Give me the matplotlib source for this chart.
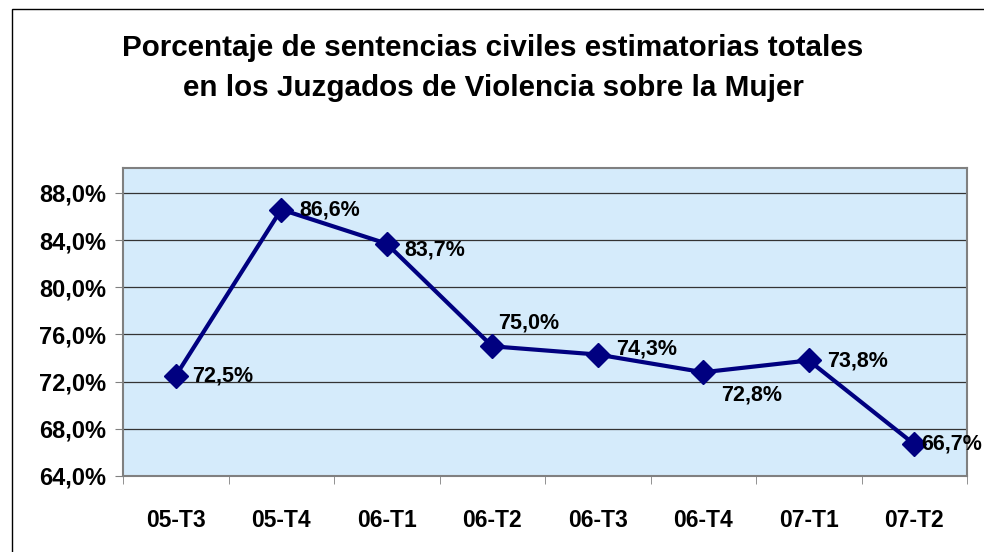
import matplotlib
matplotlib.use("Agg")
import matplotlib.pyplot as plt
from matplotlib.patches import Rectangle

categories = ["05-T3", "05-T4", "06-T1", "06-T2", "06-T3", "06-T4", "07-T1", "07-T2"]
values = [72.5, 86.6, 83.7, 75.0, 74.3, 72.8, 73.8, 66.7]
labels = ["72,5%", "86,6%", "83,7%", "75,0%", "74,3%", "72,8%", "73,8%", "66,7%"]
yticks = [64, 68, 72, 76, 80, 84, 88]
title = "Porcentaje de sentencias civiles estimatorias totales\nen los Juzgados de Violencia sobre la Mujer"

# label offsets (pixels)
offsets = [(16, 0), (18, 0), (18, -6), (6, 23), (18, 6), (18, -23), (18, -1), (7, 0)]

plt.rcParams["font.family"] = ["Liberation Sans", "DejaVu Sans"]
plt.rcParams["font.weight"] = "bold"

fig = plt.figure(figsize=(9.84, 5.52), dpi=100)
fig.patches.append(Rectangle((12 / 984, -0.1), 1.2, (552 - 9) / 552 + 0.1,
                             transform=fig.transFigure, fill=False, edgecolor="black", linewidth=1))
ax = fig.add_axes([123 / 984, 1 - 476 / 552, (967 - 123) / 984, (476 - 168) / 552])
ax.set_facecolor("#D5EBFB")
x = list(range(len(categories)))
ax.plot(x, values, color="#000080", linewidth=3, marker="D", markersize=12, zorder=3)
for xi, v, lab, (dx, dy) in zip(x, values, labels, offsets):
    ax.annotate(lab, (xi, v), xytext=(dx, dy), textcoords="offset pixels",
                ha="left", va="center", fontsize=15.5, fontweight="bold", color="black",
                zorder=4, annotation_clip=False)
ax.set_xlim(-0.5, 7.5)
ax.set_ylim(64, 90.12)
ax.set_yticks(yticks)
ax.set_yticklabels([f"{t:.1f}%".replace(".", ",") for t in yticks], fontsize=17, fontweight="bold")
ax.set_xticks(x)
ax.set_xticklabels(categories, fontsize=16.5, fontweight="bold")
ax.set_xticks([i + 0.5 for i in range(-1, 8)], minor=True)
ax.tick_params(axis="x", which="major", length=0, pad=24)
ax.tick_params(axis="x", which="minor", length=6, color="#808080")
ax.tick_params(axis="y", length=6, color="#808080", pad=6)
ax.grid(axis="y", color="#333333", linewidth=0.9)
ax.set_axisbelow(True)
for s in ax.spines.values():
    s.set_color("#808080")
    s.set_linewidth(1.5)
fig.text(0.5 + 1 / 984, 1 - 68 / 552, title, ha="center", va="center", fontsize=21.3,
         fontweight="bold", linespacing=1.55)
fig.savefig("out.png", dpi=100)
